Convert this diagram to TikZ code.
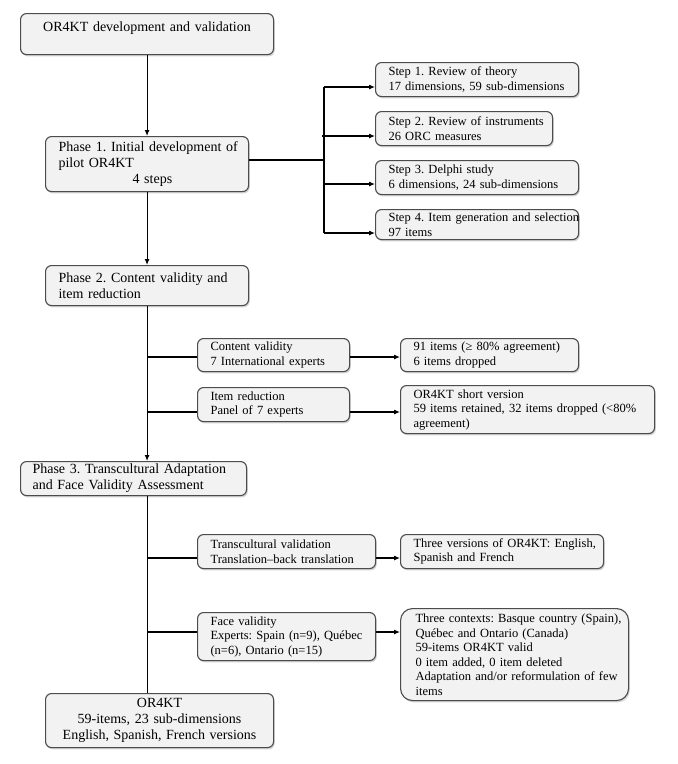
\documentclass[tikz,border=0pt]{standalone}
\usepackage{fontspec}
\setmainfont{Liberation Serif}
\usetikzlibrary{arrows.meta, positioning, shadows, calc}
\frenchspacing

\begin{document}
\begin{tikzpicture}[
    x=1pt, y=-1pt,
    box/.style={draw=black!70, fill=black!5, line width=1.1pt, rounded corners=6pt, anchor=north west, inner xsep=13pt, inner ysep=2pt, align=left,
        drop shadow={shadow xshift=1.2pt, shadow yshift=-1.8pt, opacity=0.35}},
    phase/.style={box, font=\fontsize{14}{16}\selectfont},
    stepbox/.style={box, font=\fontsize{12.5}{14.5}\selectfont},
    arr/.style={-{Latex[length=6pt,width=5pt]}, line width=1.1pt},
    lnk/.style={line width=1.1pt}
]
\useasboundingbox (0,0) rectangle (678,764);

% ===== Tronco principal =====
\node[phase, text width=227pt, minimum height=41pt, align=center, text depth=14pt] (dev) at (20,13) {OR4KT development and validation};
\node[phase, text width=177pt, minimum height=55pt] (ph1) at (45,136) {\mbox{Phase 1. Initial development of}\\pilot OR4KT\\\hspace*{74pt}4 steps};
\node[phase, text width=177pt, minimum height=40pt] (ph2) at (45,265) {Phase 2. Content validity and\\item reduction};
\node[phase, text width=202pt, minimum height=34pt, inner xsep=12pt] (ph3) at (20,461) {Phase 3. Transcultural Adaptation\\and Face Validity Assessment};
\node[phase, text width=202pt, minimum height=54pt, align=center] (final) at (45,693) {OR4KT\\59-items, 23 sub-dimensions\\English, Spanish, French versions};

% ===== Fase 1: pasos =====
\node[stepbox, text width=177pt, minimum height=34pt] (s1) at (375,62) {Step 1. Review of theory\\\mbox{17 dimensions, 59 sub-dimensions}};
\node[stepbox, text width=151pt, minimum height=34pt] (s2) at (375,111) {\mbox{Step 2. Review of instruments}\\26 ORC measures};
\node[stepbox, text width=177pt, minimum height=34pt] (s3) at (375,160) {Step 3. Delphi study\\6 dimensions, 24 sub-dimensions};
\node[stepbox, text width=177pt, minimum height=30pt] (s4) at (375,209) {\mbox{Step 4. Item generation and selection}\\97 items};

% ===== Fase 2 =====
\node[stepbox, text width=126pt, minimum height=33pt] (cv) at (197,338) {Content validity\\7 International experts};
\node[stepbox, text width=152pt, minimum height=33pt] (cvres) at (400,338) {91 items (≥ 80\% agreement)\\6 items dropped};
\node[stepbox, text width=126pt, minimum height=34pt] (ir) at (197,387) {Item reduction\\Panel of 7 experts};
\node[stepbox, text width=228pt, minimum height=48pt] (irres) at (400,385) {OR4KT short version\\\mbox{59 items retained, 32 items dropped (<80\%}\\agreement)};

% ===== Fase 3 =====
\node[stepbox, text width=152pt, minimum height=34pt] (tv) at (197,534) {Transcultural validation\\Translation--back translation};
\node[stepbox, text width=177pt, minimum height=34pt] (tvres) at (400,534) {\mbox{Three versions of OR4KT: English,}\\Spanish and French};
\node[stepbox, text width=152pt, minimum height=48pt] (fv) at (197,612) {Face validity\\\mbox{Experts: Spain (n=9), Québec}\\(n=6), Ontario (n=15)};
\node[stepbox, text width=198pt, minimum height=92pt, inner xsep=15pt, rounded corners=12pt] (fvres) at (400,608) {\mbox{Three contexts: Basque country (Spain),}\\Québec and Ontario (Canada)\\59-items OR4KT valid\\0 item added, 0 item deleted\\\mbox{Adaptation and/or reformulation of few}\\items};

% ===== Puntos de ramificación =====
\coordinate (t1) at (324,160);
\coordinate (k1) at (324,87);
\coordinate (k2) at (322,136);
\coordinate (k3) at (324,184);
\coordinate (k4) at (324,233);
\coordinate (b1) at (147,357);
\coordinate (b2) at (147,412);
\coordinate (b3) at (147,558);
\coordinate (b4) at (147,632);

% ===== Conexiones =====
\draw[arr] (dev) -- (ph1);
\draw[arr] (ph1) -- (ph2);
\draw[arr] (ph2) -- (ph2 |- ph3.north);
\draw[lnk] (ph3.south -| ph2.south) -- (final.north -| ph2.south);

\draw[lnk] (ph1.east |- t1) -- (t1);
\draw[lnk] (k1) -- (k4);
\draw[arr] (k1) -- (k1 -| s1.west);
\draw[arr] (k2) -- (k2 -| s2.west);
\draw[arr] (k3) -- (k3 -| s3.west);
\draw[arr] (k4) -- (k4 -| s4.west);

\draw[lnk] (b1) -- (b1 -| cv.west);
\draw[arr] (b1 -| cv.east) -- (b1 -| cvres.west);
\draw[lnk] (b2) -- (b2 -| ir.west);
\draw[arr] (b2 -| ir.east) -- (b2 -| irres.west);
\draw[lnk] (b3) -- (b3 -| tv.west);
\draw[arr] (b3 -| tv.east) -- (b3 -| tvres.west);
\draw[lnk] (b4) -- (b4 -| fv.west);
\draw[arr] (b4 -| fv.east) -- (b4 -| fvres.west);

\end{tikzpicture}
\end{document}
